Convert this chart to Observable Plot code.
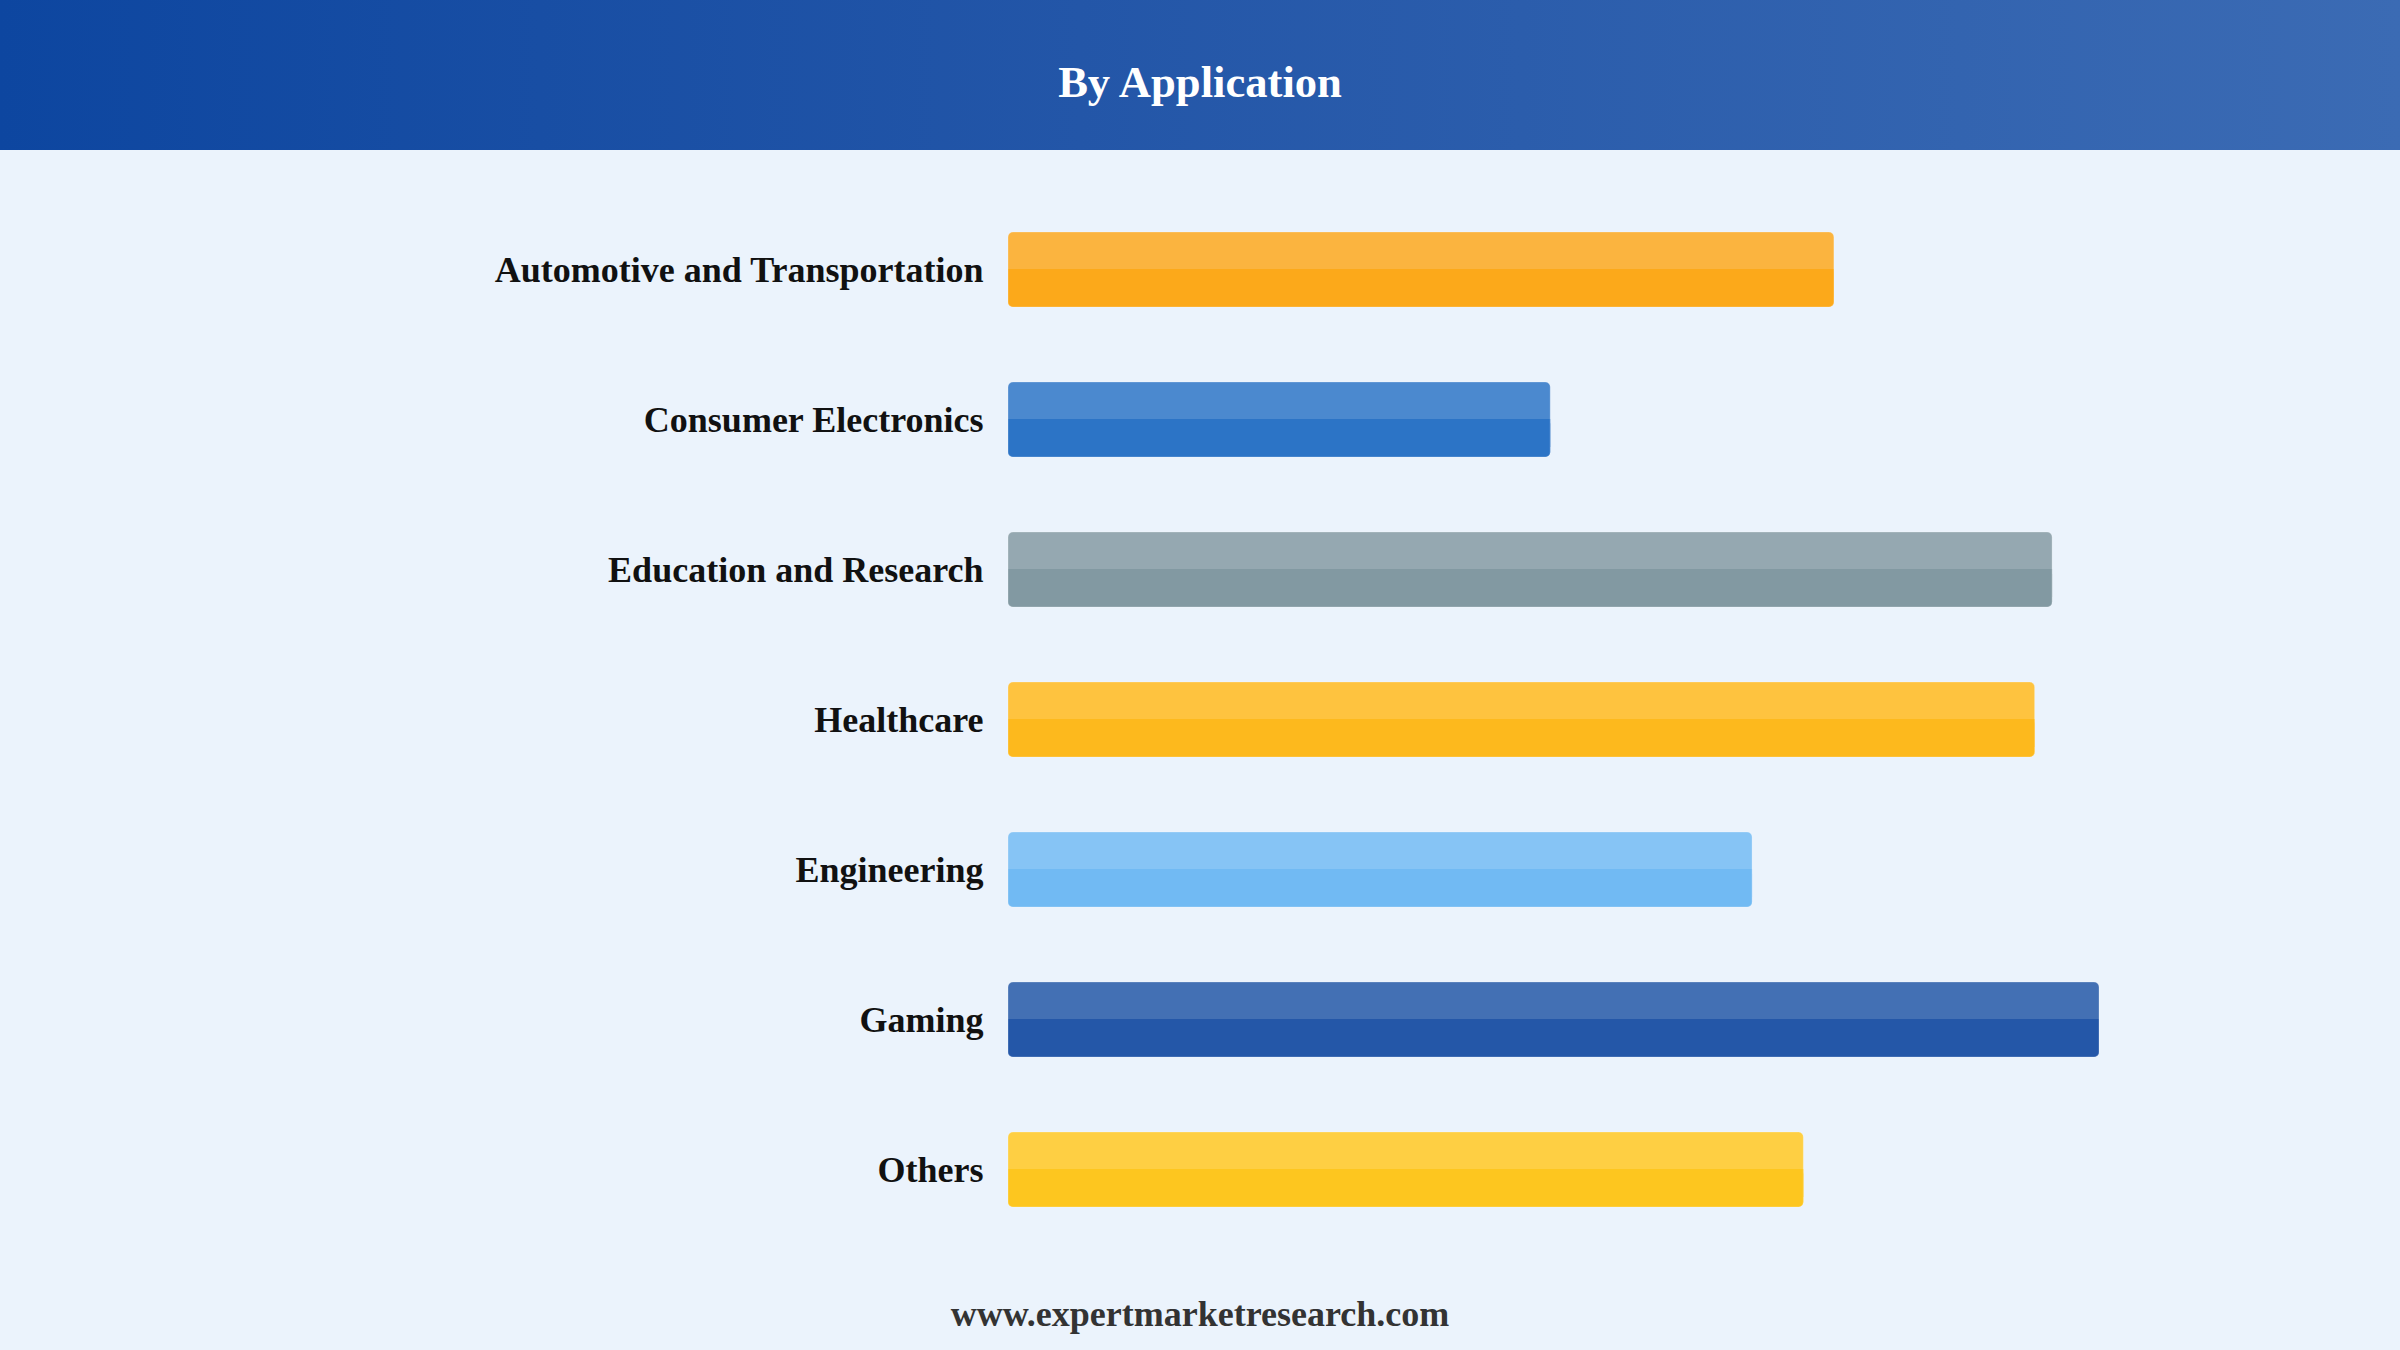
<!DOCTYPE html>
<html>
<head>
<meta charset="utf-8">
<script src="https://cdn.jsdelivr.net/npm/d3@7"></script>
<script src="https://cdn.jsdelivr.net/npm/@observablehq/plot@0.6"></script>
<style>
  html, body { margin: 0; padding: 0; width: 2400px; height: 1350px; overflow: hidden; background: #EBF3FC; font-family: "Liberation Serif", "DejaVu Serif", serif; }
  #header { height: 150px; background: linear-gradient(to right, #0D46A0 0%, #2356A8 45%, #3B6BB4 100%); color: #fff; font-weight: bold; font-size: 44.6px; text-align: center; line-height: 164px; }
  #chart { height: 1100px; }
  #footer { margin-top: 28px; line-height: 72px; height: 72px; text-align: center; font-weight: bold; font-size: 36px; color: #333333; }
</style>
</head>
<body>
<div id="header">By Application</div>
<div id="chart"></div>
<div id="footer">www.expertmarketresearch.com</div>
<script>
const categories = ["Automotive and Transportation", "Consumer Electronics", "Education and Research", "Healthcare", "Engineering", "Gaming", "Others"];
const values = [75.7, 49.7, 95.7, 94.1, 68.2, 100, 72.9];
const topColors = ["#FBB43F", "#4B89CF", "#95A8B1", "#FEC33F", "#86C4F5", "#4370B4", "#FECF43"];
const bottomColors = ["#FCA91A", "#2C74C6", "#8299A2", "#FDB91D", "#71BAF3", "#2457A8", "#FDC61F"];

const data = categories.map((c, i) => ({category: c, value: values[i], top: topColors[i], bottom: bottomColors[i]}));

const chart = Plot.plot({
  width: 2400,
  height: 1100,
  marginLeft: 1008,
  marginRight: 301,
  marginTop: 44.5,
  marginBottom: 5.5,
  style: {background: "transparent", fontFamily: "'Liberation Serif', serif", color: "#111111", overflow: "visible"},
  x: {domain: [0, 100], axis: null},
  y: {domain: categories, paddingInner: 0.5, paddingOuter: 0.25, label: null},
  marks: [
    Plot.barX(data, {y: "category", x: "value", fill: "top", rx: 5}),
    Plot.barX(data, {y: "category", x: "value", fill: "bottom", rx: 5, insetTop: 37}),
    Plot.barX(data, {y: "category", x: "value", fill: "bottom", insetTop: 37, insetBottom: 10}),
    Plot.barX(data, {y: "category", x: "value", fill: "none", stroke: "white", strokeOpacity: 0.25, strokeWidth: 1, rx: 5}),
    Plot.axisY({tickSize: 0, tickPadding: 25, fontSize: 36, fontWeight: "bold", label: null})
  ]
});
document.getElementById("chart").appendChild(chart);
</script>
</body>
</html>
